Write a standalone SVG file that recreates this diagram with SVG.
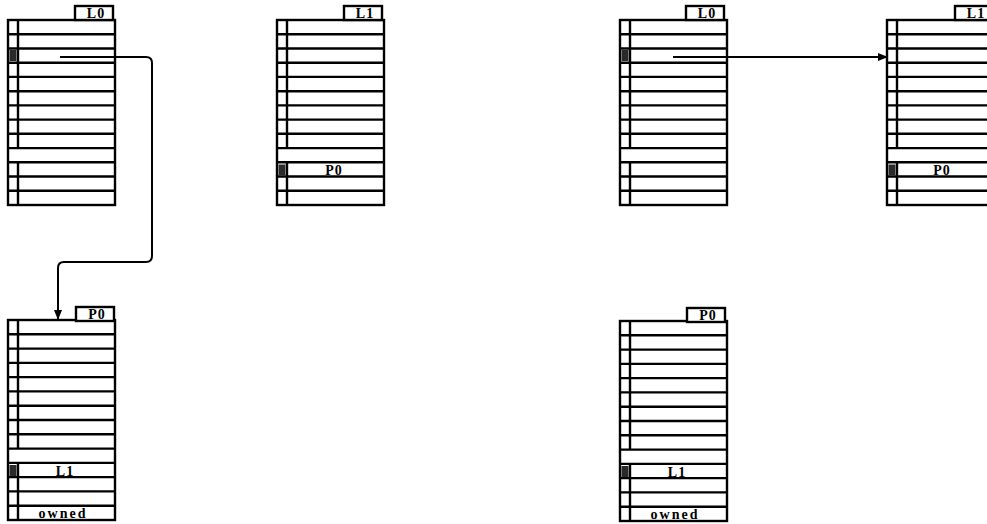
<svg xmlns="http://www.w3.org/2000/svg" width="987" height="524" viewBox="0 0 987 524">
<style>
.ln{fill:none;stroke:#000;stroke-width:2.4}
.tab{fill:#fff;stroke:#000;stroke-width:2.4}
.mk{fill:#2a2a2a}
.t{font-family:"Liberation Serif",serif;font-weight:bold;font-size:14px;fill:#000;text-anchor:middle;letter-spacing:1px}
.o{letter-spacing:2px}
.c{fill:none;stroke:#000;stroke-width:2}
</style>
<defs>
<marker id="ah" markerWidth="10" markerHeight="8" refX="9" refY="4" orient="auto" markerUnits="userSpaceOnUse">
<path d="M0,0 L10,4 L0,8 Z" fill="#000"/>
</marker>
<g id="box13">
<rect class="ln" x="0" y="0" width="107" height="185"/>
<path class="ln" d="M0 14.2H107M0 28.5H107M0 42.7H107M0 56.9H107M0 71.2H107M0 85.4H107M0 99.6H107M0 113.8H107M0 128.1H107M0 142.3H107M0 156.5H107M0 170.8H107"/>
<path class="ln" d="M10 0V128.1M10 142.3V185"/>
</g>
<g id="box14">
<rect class="ln" x="0" y="0" width="107" height="200"/>
<path class="ln" d="M0 14.3H107M0 28.6H107M0 42.9H107M0 57.1H107M0 71.4H107M0 85.7H107M0 100H107M0 114.3H107M0 128.6H107M0 142.9H107M0 157.1H107M0 171.4H107M0 185.7H107"/>
<path class="ln" d="M10 0V128.6M10 142.9V200"/>
</g>
</defs>

<g id="L0a">
<use href="#box13" x="8" y="20"/>
<rect class="tab" x="75" y="6" width="38" height="14"/>
<text class="t" x="96" y="17.5">L0</text>
<rect class="mk" x="9.5" y="50" width="7" height="11"/>
</g>

<g id="L1a">
<use href="#box13" x="277" y="20"/>
<rect class="tab" x="344" y="6" width="38" height="14"/>
<text class="t" x="365" y="17.5">L1</text>
<rect class="mk" x="278.5" y="164.5" width="7" height="11"/>
<text class="t" x="334" y="174.5">P0</text>
</g>

<g id="L0b">
<use href="#box13" x="620" y="20"/>
<rect class="tab" x="686" y="6" width="38" height="14"/>
<text class="t" x="707" y="17.5">L0</text>
<rect class="mk" x="621.5" y="50" width="7" height="11"/>
</g>

<g id="L1b">
<use href="#box13" x="887" y="20"/>
<rect class="tab" x="955" y="6" width="38" height="14"/>
<text class="t" x="976" y="17.5">L1</text>
<rect class="mk" x="888.5" y="164.5" width="7" height="11"/>
<text class="t" x="942" y="174.5">P0</text>
</g>

<g id="P0a">
<use href="#box14" x="8" y="320"/>
<rect class="tab" x="76" y="307" width="38" height="14"/>
<text class="t" x="97" y="318.5">P0</text>
<rect class="mk" x="9.5" y="465" width="7" height="11"/>
<text class="t" x="65" y="475.5">L1</text>
<text class="t o" x="63" y="517.5">owned</text>
</g>

<g id="P0b">
<use href="#box14" x="620" y="321"/>
<rect class="tab" x="687" y="308" width="38" height="14"/>
<text class="t" x="708" y="319.5">P0</text>
<rect class="mk" x="621.5" y="466" width="7" height="11"/>
<text class="t" x="677" y="476.5">L1</text>
<text class="t o" x="675" y="518.5">owned</text>
</g>

<g id="connectors">
<path class="c" d="M60 57H146Q152 57 152 63V256Q152 262 146 262H64Q58 262 58 268V319" marker-end="url(#ah)"/>
<path class="c" d="M673 57H887" marker-end="url(#ah)"/>
</g>
</svg>
